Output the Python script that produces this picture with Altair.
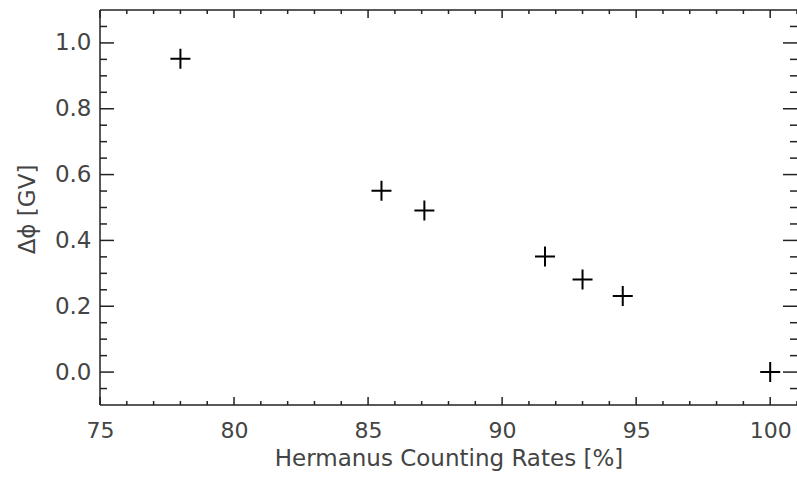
import altair as alt
import pandas as pd

# Measured shift in solar modulation potential vs. neutron monitor counting rate
rate = [78.0, 85.5, 87.1, 91.6, 93.0, 94.5, 100.0]
dphi = [0.952, 0.551, 0.491, 0.351, 0.281, 0.231, 0.0]

# Tick positions (major carry labels, minor are unlabeled)
x_major = [75, 80, 85, 90, 95, 100]
x_minor = [76, 77, 78, 79, 81, 82, 83, 84, 86, 87, 88, 89,
           91, 92, 93, 94, 96, 97, 98, 99, 101]
y_major = [0.0, 0.2, 0.4, 0.6, 0.8, 1.0]
y_minor = [-0.05, 0.05, 0.1, 0.15, 0.25, 0.3, 0.35, 0.45, 0.5, 0.55,
           0.65, 0.7, 0.75, 0.85, 0.9, 0.95, 1.05]

W, H = 697, 395
FONT = "DejaVu Sans"
INK = "#222222"
TXT = "#444444"

xs = alt.Scale(domain=[75, 101], nice=False, zero=False)
ys = alt.Scale(domain=[-0.1, 1.1], nice=False, zero=False)

x_axis = alt.Axis(
    values=x_major, format="d", ticks=False, tickSize=0, domain=False, grid=False,
    labelFont=FONT, labelFontSize=22, labelColor=TXT, labelPadding=15,
    labelFlush=False,
    title="Hermanus Counting Rates [%]", titleFont=FONT, titleFontSize=23,
    titleFontWeight="normal", titleColor=TXT, titleBaseline="alphabetic",
    titleY=60,
)
y_axis = alt.Axis(
    values=y_major, format=".1f", ticks=False, tickSize=0, domain=False, grid=False,
    labelFont=FONT, labelFontSize=23, labelColor=TXT, labelPadding=9,
    labelFlush=False,
    title="Δϕ [GV]", titleFont=FONT, titleFontSize=23,
    titleFontWeight="normal", titleColor=TXT, titleBaseline="alphabetic",
    titleX=-66, titleY=199,
)

df = pd.DataFrame({"rate": rate, "dphi": dphi})

points = alt.Chart(df).mark_point(
    shape="M-1,0H1M0,-1V1", size=400, filled=False,
    stroke="black", strokeWidth=2, opacity=1,
).encode(
    x=alt.X("rate:Q", scale=xs, axis=x_axis),
    y=alt.Y("dphi:Q", scale=ys, axis=y_axis),
)


def x_ticks(values, length):
    d = pd.DataFrame({"v": values})
    base = alt.Chart(d).mark_rule(color=INK, strokeWidth=1.5)
    bottom = base.encode(x=alt.X("v:Q", scale=xs, axis=x_axis),
                         y=alt.value(H), y2=alt.value(H - length))
    top = base.encode(x=alt.X("v:Q", scale=xs, axis=x_axis),
                      y=alt.value(0), y2=alt.value(length))
    return [bottom, top]


def y_ticks(values, length):
    d = pd.DataFrame({"v": values})
    base = alt.Chart(d).mark_rule(color=INK, strokeWidth=1.5)
    left = base.encode(y=alt.Y("v:Q", scale=ys, axis=y_axis),
                       x=alt.value(0), x2=alt.value(length))
    right = base.encode(y=alt.Y("v:Q", scale=ys, axis=y_axis),
                        x=alt.value(W), x2=alt.value(W - length))
    return [left, right]


# Frame: left, bottom and top edges of the plot box
frame_src = alt.Chart(pd.DataFrame({"k": [0]}))
frame = [
    frame_src.mark_rule(color=INK, strokeWidth=1.5).encode(
        x=alt.value(0), x2=alt.value(0), y=alt.value(0), y2=alt.value(H)),
    frame_src.mark_rule(color=INK, strokeWidth=1.5).encode(
        x=alt.value(0), x2=alt.value(W), y=alt.value(H), y2=alt.value(H)),
    frame_src.mark_rule(color=INK, strokeWidth=1.5).encode(
        x=alt.value(0), x2=alt.value(W), y=alt.value(0), y2=alt.value(0)),
]

layers = [points]
layers += x_ticks(x_major, 8) + x_ticks(x_minor, 4)
layers += y_ticks(y_major, 14) + y_ticks(y_minor, 7)
layers += frame

chart = alt.layer(*layers).properties(
    width=W, height=H,
    autosize=alt.AutoSizeParams(type="none"),
    padding={"left": 100, "top": 10, "right": 0, "bottom": 77},
    background="white",
).configure_view(stroke="transparent")

chart.save("out.html", embed_options={"renderer": "svg", "actions": False})
